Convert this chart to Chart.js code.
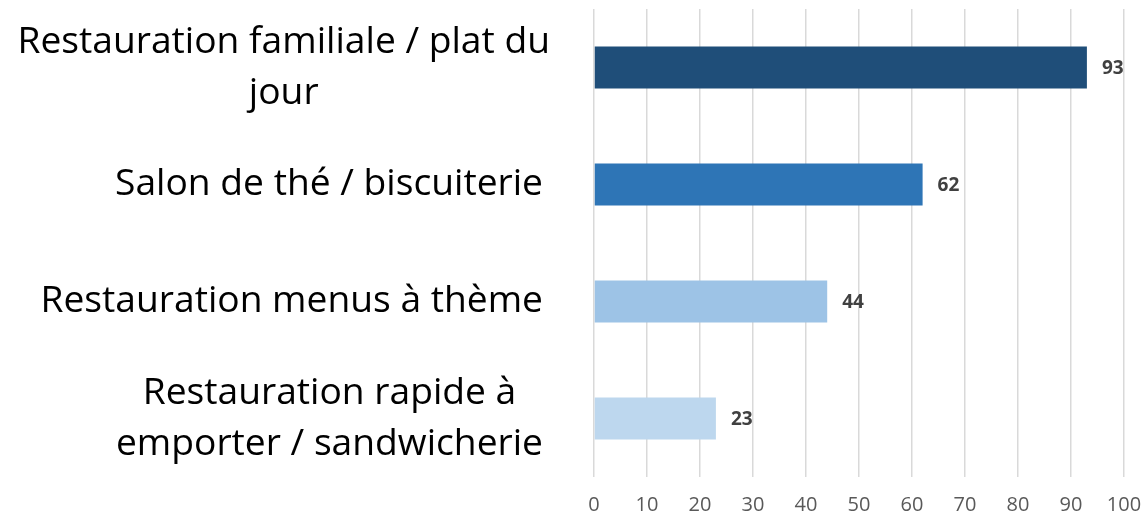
<!DOCTYPE html>
<html>
<head>
<meta charset="utf-8">
<script src="https://cdn.jsdelivr.net/npm/chart.js@4"></script>
<style>
  body { margin: 0; background: #fff; }
  #wrap { width: 1142px; height: 518px; position: relative; }
</style>
</head>
<body>
<div id="wrap"><canvas id="barChart"></canvas></div>
<script>
// categories, one array of lines per bar
const categories = [
  ["Restauration familiale / plat du", "jour"],
  ["Salon de thé / biscuiterie"],
  ["Restauration menus à thème"],
  ["Restauration rapide à", "emporter / sandwicherie"],
];
const values = [93, 62, 44, 23];
const barColors = ["#1F4E79", "#2E75B6", "#9DC3E6", "#BDD7EE"];
const xTicks = [0, 10, 20, 30, 40, 50, 60, 70, 80, 90, 100];

// draws the category labels: block right-aligned, lines centered inside it
const catLabels = {
  id: "catLabels",
  afterDraw(chart) {
    const ctx = chart.ctx;
    const yScale = chart.scales.y;
    ctx.save();
    ctx.font = "32px 'Open Sans'";
    // fit the widest line to the width it has in the original
    const widest = ctx.measureText(categories[0][0]).width;
    const size = (32 * 533) / widest;
    ctx.font = size.toFixed(1) + "px 'Open Sans'";
    ctx.fillStyle = "#000";
    ctx.textBaseline = "middle";
    ctx.textAlign = "center";
    const lineH = 51;
    categories.forEach((lines, i) => {
      const y = yScale.getPixelForValue(i);
      const maxW = Math.max(...lines.map((l) => ctx.measureText(l).width));
      const right = i === 0 ? 550 : 543;
      const cx = right - maxW / 2;
      lines.forEach((l, j) => {
        ctx.fillText(l, cx, y + (j - (lines.length - 1) / 2) * lineH);
      });
    });
    ctx.restore();
  },
};

// value labels at the end of each bar
const valueLabels = {
  id: "valueLabels",
  afterDatasetsDraw(chart) {
    const ctx = chart.ctx;
    const meta = chart.getDatasetMeta(0);
    ctx.save();
    ctx.font = "bold 19px 'Open Sans'";
    ctx.fillStyle = "#404040";
    ctx.textBaseline = "middle";
    ctx.textAlign = "left";
    meta.data.forEach((bar, i) => {
      ctx.fillText(String(values[i]), bar.x + 15, bar.y + 1);
    });
    ctx.restore();
  },
};

const ctx = document.getElementById("barChart").getContext("2d");
const chart = new Chart(ctx, {
  type: "bar",
  data: {
    labels: categories,
    datasets: [
      {
        data: values,
        backgroundColor: barColors,
        borderWidth: 0,
        barPercentage: 0.36,
        categoryPercentage: 1,
      },
    ],
  },
  options: {
    indexAxis: "y",
    responsive: true,
    maintainAspectRatio: false,
    animation: false,
    layout: { padding: { top: 9, right: 0, bottom: 0, left: 0 } },
    plugins: {
      legend: { display: false },
      tooltip: { enabled: false },
    },
    scales: {
      x: {
        min: 0,
        max: 100,
        afterBuildTicks: (scale) => {
          scale.ticks = xTicks.map((v) => ({ value: v }));
        },
        afterFit: (scale) => {
          scale.height = 41;
          scale.paddingRight = 18;
          scale.paddingLeft = 0;
        },
        ticks: {
          color: "#595959",
          font: { family: "Open Sans", size: 20 },
          padding: 16,
          maxRotation: 0,
        },
        grid: { color: "#d9d9d9", lineWidth: 1.5, drawTicks: false },
        border: { display: false },
      },
      y: {
        ticks: { display: false },
        grid: { display: false },
        border: { display: false },
        afterFit: (scale) => {
          scale.width = 594;
        },
      },
    },
  },
  plugins: [catLabels, valueLabels],
});
</script>
</body>
</html>
